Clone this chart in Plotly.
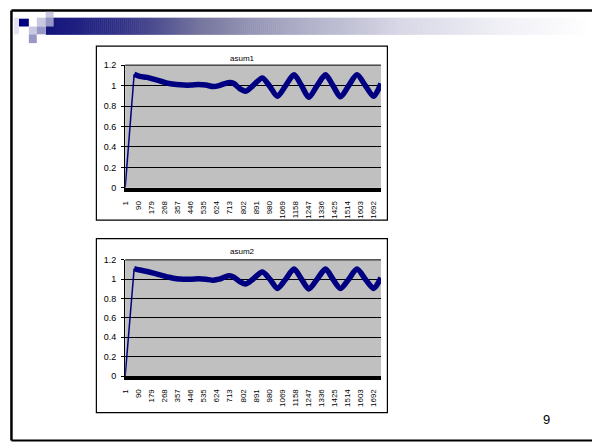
import plotly.graph_objects as go

# ---- data -------------------------------------------------------------
n_points = 1740
tick_labels = ["1", "90", "179", "268", "357", "446", "535", "624", "713", "802",
               "891", "980", "1069", "1158", "1247", "1336", "1425", "1514", "1603", "1692"]
tick_values = [int(t) for t in tick_labels]

sample_index = [1, 62, 100, 150, 200, 250, 300, 350, 400, 450, 500, 550, 600, 640,
                680, 710, 740, 780, 821, 870, 934, 985, 1036, 1092, 1149, 1200, 1250,
                1306, 1363, 1414, 1465, 1521, 1577, 1634, 1690, 1740]
asum1 = [0.0, 1.11, 1.09, 1.08, 1.06, 1.04, 1.02, 1.01, 1.005, 1.005, 1.01, 1.005,
         0.99, 1.0, 1.02, 1.03, 1.02, 0.97, 0.945, 1.0, 1.075, 0.99, 0.895, 1.0,
         1.105, 1.0, 0.885, 1.0, 1.105, 1.0, 0.89, 1.0, 1.105, 1.0, 0.895, 1.02]
asum2 = [0.0, 1.11, 1.095, 1.08, 1.06, 1.04, 1.02, 1.005, 1.0, 1.0, 1.005, 1.0,
         0.99, 1.0, 1.025, 1.035, 1.02, 0.975, 0.95, 1.0, 1.075, 1.0, 0.905, 1.0,
         1.105, 1.0, 0.9, 1.0, 1.105, 1.0, 0.905, 1.0, 1.105, 1.0, 0.905, 1.015]

# ---- page geometry helpers (pixels -> paper) --------------------------
W, H = 592, 447


def px(x):
    return x / W


def py(y):
    return 1 - y / H


NAVY = "#000080"
FONT = "Liberation Sans, Arial, sans-serif"
PLOT_L, PLOT_R = 122, 379.5

fig = go.Figure()

charts = [
    ("asum1", asum1, "x", "y", (61.5, 187.0), (42, 220)),
    ("asum2", asum2, "x2", "y2", (260.7, 379.5), (239, 417)),
]

layout_axes = {}
annotations = []
shapes = []

for i, (title, vals, xa, ya, (top, bottom), (ftop, fbot)) in enumerate(charts):
    # initial rise drawn thin, the noisy signal drawn as a thick band
    fig.add_trace(go.Scatter(x=sample_index[:2], y=vals[:2], mode="lines",
                             line=dict(color=NAVY, width=1.5),
                             xaxis=xa, yaxis=ya, showlegend=False, hoverinfo="skip"))
    fig.add_trace(go.Scatter(x=sample_index[1:], y=vals[1:], mode="lines",
                             line=dict(color=NAVY, width=5.5, shape="spline", smoothing=0.8),
                             xaxis=xa, yaxis=ya, showlegend=False, hoverinfo="skip"))

    suffix = "" if i == 0 else str(i + 1)
    layout_axes["xaxis" + suffix] = dict(
        domain=[px(PLOT_L), px(PLOT_R)], anchor=ya, range=[1, n_points],
        tickmode="array", tickvals=tick_values, ticktext=tick_labels,
        tickangle=-90, tickfont=dict(size=8, color="black", family=FONT),
        showline=True, linecolor="black", linewidth=4, ticks="",
        ticklabelstandoff=6, showgrid=False, zeroline=False, fixedrange=True,
    )
    layout_axes["yaxis" + suffix] = dict(
        domain=[py(bottom), py(top)], anchor=xa, range=[0, 1.2],
        tickmode="linear", tick0=0, dtick=0.2,
        tickfont=dict(size=9, color="black", family=FONT),
        showgrid=True, gridcolor="black", gridwidth=1,
        showline=True, linecolor="black", linewidth=1,
        ticks="outside", ticklen=3, tickcolor="black",
        ticklabelstandoff=3, zeroline=False, fixedrange=True,
    )
    annotations.append(dict(text=title, x=px(240), y=py(ftop + 13), xref="paper",
                            yref="paper", xanchor="center", yanchor="middle",
                            showarrow=False,
                            font=dict(size=8, color="black", family=FONT)))
    # top gridline at 1.2
    shapes.append(dict(type="line", xref="paper", yref="paper",
                       x0=px(PLOT_L), x1=px(PLOT_R), y0=py(top), y1=py(top),
                       line=dict(color="black", width=1)))
    # chart frame
    shapes.append(dict(type="rect", xref="paper", yref="paper",
                       x0=px(93), x1=px(386), y0=py(fbot), y1=py(ftop),
                       line=dict(color="black", width=1.2)))

# page number
annotations.append(dict(text="9", x=px(546.5), y=py(424), xref="paper", yref="paper",
                        xanchor="center", yanchor="middle", showarrow=False,
                        font=dict(size=13, color="black", family=FONT)))

# slide frame
shapes.append(dict(type="line", xref="paper", yref="paper", x0=px(7.5), x1=px(600),
                   y0=py(5.5), y1=py(5.5), line=dict(color="black", width=2.5)))
shapes.append(dict(type="line", xref="paper", yref="paper", x0=px(7.5), x1=px(7.5),
                   y0=py(5.5), y1=py(445.5), line=dict(color="black", width=2.5)))
shapes.append(dict(type="line", xref="paper", yref="paper", x0=px(7.5), x1=px(600),
                   y0=py(445.5), y1=py(445.5), line=dict(color="black", width=2)))

# header gradient bar
stops = [(42, (20, 20, 125)), (120, (50, 50, 135)), (200, (120, 120, 160)),
         (300, (175, 175, 200)), (400, (215, 215, 230)), (500, (240, 240, 246)),
         (592, (255, 255, 255))]


def grad_color(x):
    for (xa_, ca), (xb_, cb) in zip(stops[:-1], stops[1:]):
        if xa_ <= x <= xb_:
            t = (x - xa_) / (xb_ - xa_)
            c = [round(a + (b - a) * t) for a, b in zip(ca, cb)]
            return "rgb({},{},{})".format(*c)
    return "rgb(255,255,255)"


step = 2
x = 42
while x < 592:
    shapes.append(dict(type="rect", xref="paper", yref="paper",
                       x0=px(x), x1=px(min(x + step + 0.5, 592)), y0=py(30.5), y1=py(13),
                       fillcolor=grad_color(x + step / 2), line=dict(width=0), layer="above"))
    x += step

# header squares
squares = [
    (42, 7, 50, 13, "#c8c8e0"),
    (33, 13, 42, 22, "#c8c8e0"),
    (15, 14, 25, 22, "#000080"),
    (42, 13, 50, 22, "#9898c8"),
    (25, 22, 33, 30, "#c8c8e0"),
    (33, 22, 42, 30, "#9898c8"),
    (25, 30, 33, 39, "#9898c8"),
    (10, 13, 15, 30, "#e4e4f0"),
]
for x0, y0, x1, y1, c in squares:
    shapes.append(dict(type="rect", xref="paper", yref="paper", x0=px(x0), x1=px(x1),
                       y0=py(y1), y1=py(y0), fillcolor=c, line=dict(width=0), layer="above"))

fig.update_layout(
    width=W, height=H, margin=dict(l=0, r=0, t=0, b=0),
    paper_bgcolor="white", plot_bgcolor="#c0c0c0",
    showlegend=False, annotations=annotations, shapes=shapes,
    **layout_axes,
)

fig.write_html("out.html", config={"displayModeBar": False})
